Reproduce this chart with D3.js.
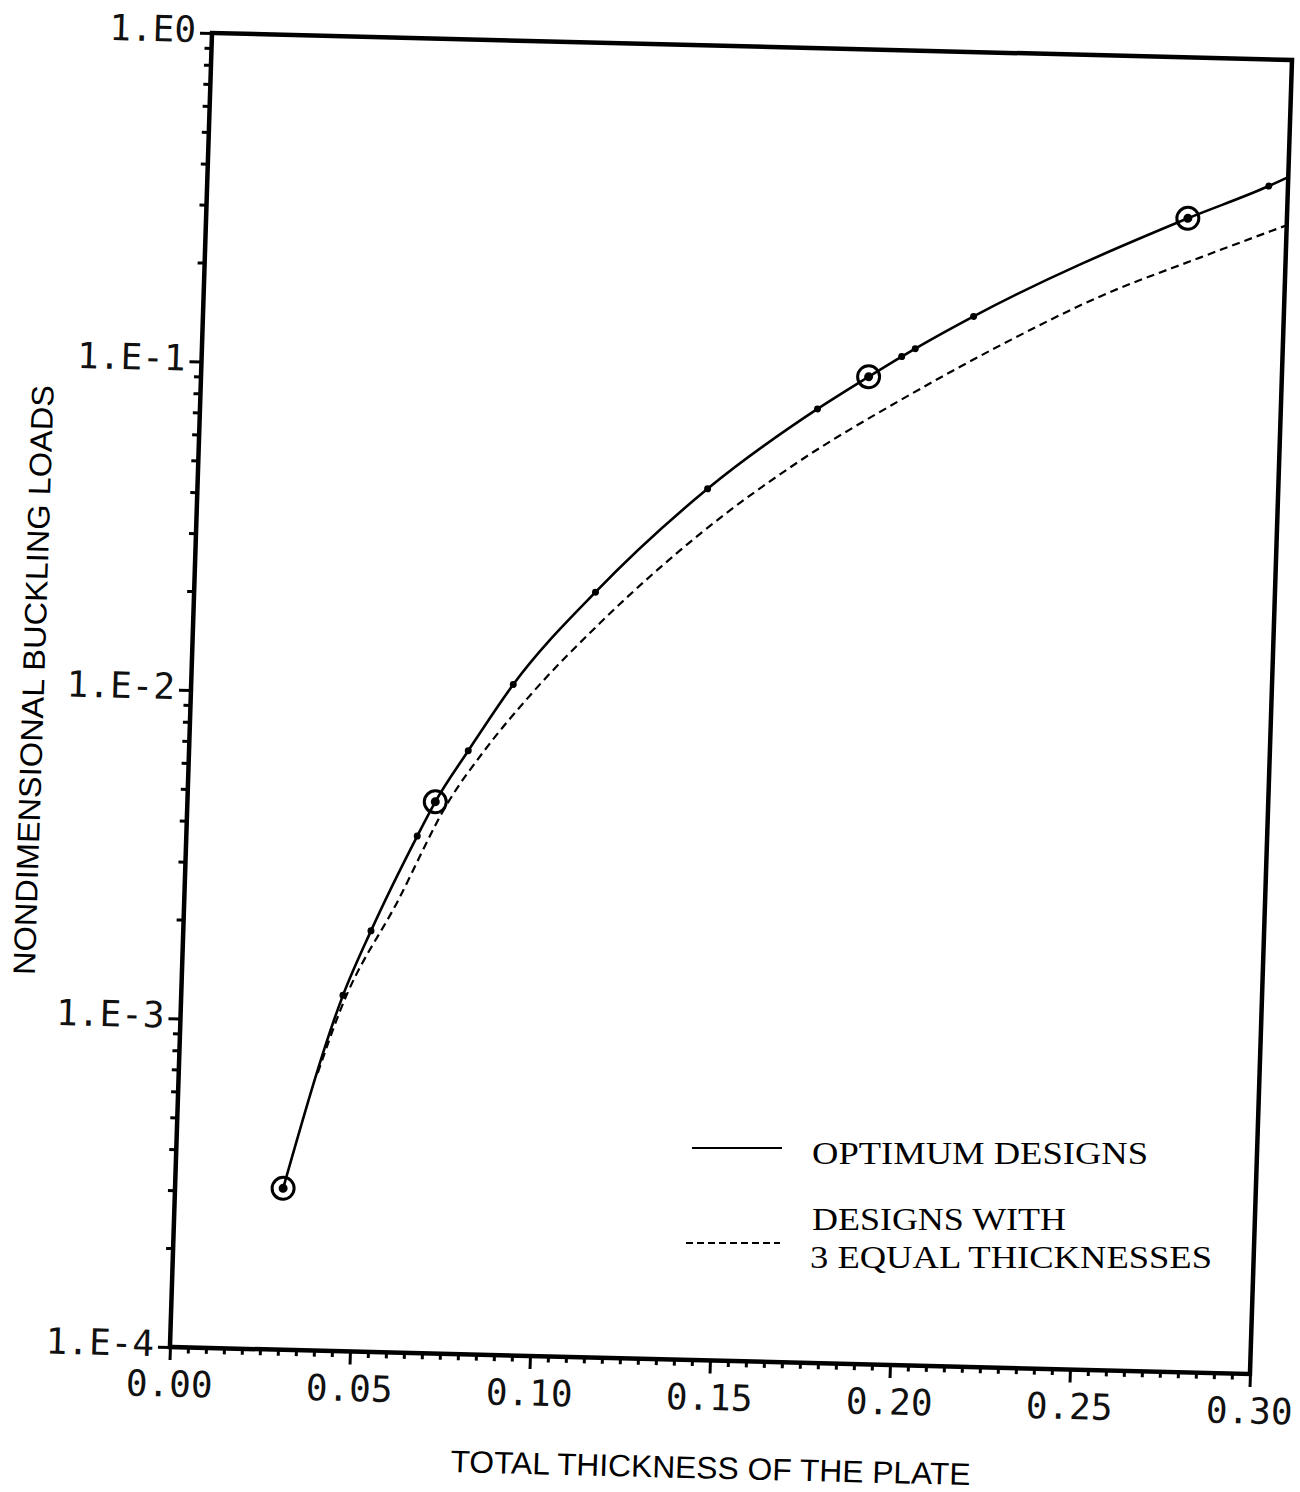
<html>
  <head>
    <meta charset="utf-8">
    <script src="https://d3js.org/d3.v7.min.js"></script>
    <style>
      body { margin: 0; background: #fff; }
      .tick text { font-family: "DejaVu Sans Mono", monospace; }
    </style>
  </head>

  <body>
  <div id='chart'></div>
  <script>

  // optimum designs (solid line), marker: o = circled, . = small dot, "" = none
  var opt_x = [0.030, 0.0449, 0.0521, 0.0641, 0.0688, 0.0775, 0.0894, 0.1114, 0.1416, 0.1714, 0.1853, 0.1943, 0.198, 0.2139, 0.2725, 0.2947, 0.300];
  var opt_y = [3.1e-4, 1.21e-3, 1.91e-3, 3.74e-3, 4.77e-3, 6.86e-3, 1.10e-2, 0.0213, 0.0448, 0.0799, 0.101, 0.117, 0.124, 0.157, 0.324, 0.412, 0.44];
  var opt_mark = ["o", ".", ".", ".", "o", ".", ".", ".", ".", ".", "o", ".", ".", ".", "o", ".", ""];

  // designs with 3 equal thicknesses (dashed line)
  var eq_x = [0.0386, 0.0443, 0.0594, 0.0724, 0.0817, 0.0949, 0.113, 0.140, 0.1673, 0.1944, 0.2217, 0.249, 0.2764, 0.300];
  var eq_y = [7.0e-4, 1.09e-3, 2.38e-3, 4.77e-3, 6.82e-3, 1.045e-2, 0.0172, 0.0327, 0.0557, 0.0863, 0.129, 0.185, 0.247, 0.314];

  var x_ticks = [0, 0.05, 0.10, 0.15, 0.20, 0.25, 0.30];
  var x_labels = ["0.00", "0.05", "0.10", "0.15", "0.20", "0.25", "0.30"];
  var y_ticks = [1e-4, 1e-3, 1e-2, 1e-1, 1];
  var y_labels = ["1.E-4", "1.E-3", "1.E-2", "1.E-1", "1.E0"];

  var W = 1080, H = 1314;

  var svg = d3.select('#chart').append('svg')
      .attr('width', 1300)
      .attr('height', 1492);

  // the scanned plot is a little skewed, so the whole frame gets a small shear/rotation
  var g = svg.append('g')
      .attr('transform', 'matrix(1,0.025,-0.032,1,212,33)');

  var x = d3.scaleLinear().domain([0, 0.30]).range([0, W]);
  var y = d3.scaleLog().domain([1e-4, 1]).range([H, 0]);

  // minor ticks
  var x_minor = d3.range(0, 61).map(function(i){ return i * 0.005; })
      .filter(function(v){ return Math.round(v * 1000) % 50 != 0; });
  var y_minor = [];
  for (var e = -4; e < 0; e++) {
    for (var m = 2; m < 10; m++) y_minor.push(m * Math.pow(10, e));
  }

  g.append('g').attr('class', 'xminor')
      .attr('transform', 'translate(0,' + H + ')')
      .call(d3.axisBottom(x).tickValues(x_minor).tickSize(6).tickFormat(''));
  g.append('g').attr('class', 'yminor')
      .call(d3.axisLeft(y).tickValues(y_minor).tickSize(7).tickFormat(''));

  var xa = g.append('g')
      .attr('transform', 'translate(0,' + H + ')')
      .call(d3.axisBottom(x).tickValues(x_ticks).tickSize(13).tickPadding(11)
            .tickFormat(function(d, i){ return x_labels[i]; }));
  var ya = g.append('g')
      .call(d3.axisLeft(y).tickValues(y_ticks).tickSize(12).tickPadding(4)
            .tickFormat(function(d, i){ return y_labels[i]; }));

  g.selectAll('.domain').remove();
  g.selectAll('.tick line').attr('stroke', '#000').attr('stroke-width', 3);
  xa.selectAll('text').attr('font-size', 36).attr('fill', '#111');
  ya.selectAll('text').attr('font-size', 36).attr('fill', '#111').attr('dy', '0.25em');

  // frame
  g.append('rect')
      .attr('x', 0).attr('y', 0)
      .attr('width', W).attr('height', H)
      .attr('fill', 'none')
      .attr('stroke', '#000')
      .attr('stroke-width', 4.5);

  var line = d3.line()
      .x(function(d){ return x(d[0]); })
      .y(function(d){ return y(d[1]); })
      .curve(d3.curveMonotoneX);

  var opt = opt_x.map(function(v, i){ return [v, opt_y[i], opt_mark[i]]; });
  var eq = eq_x.map(function(v, i){ return [v, eq_y[i]]; });

  g.append('path')
      .datum(eq)
      .attr('d', line)
      .attr('fill', 'none')
      .attr('stroke', '#000')
      .attr('stroke-width', 2.2)
      .attr('stroke-dasharray', '8,5');

  g.append('path')
      .datum(opt)
      .attr('d', line)
      .attr('fill', 'none')
      .attr('stroke', '#000')
      .attr('stroke-width', 2.6);

  g.selectAll('.dot')
      .data(opt.filter(function(d){ return d[2] != ''; }))
      .enter().append('circle')
      .attr('class', 'dot')
      .attr('cx', function(d){ return x(d[0]); })
      .attr('cy', function(d){ return y(d[1]); })
      .attr('r', function(d){ return d[2] == 'o' ? 4.5 : 3.5; })
      .attr('fill', '#000');

  g.selectAll('.ring')
      .data(opt.filter(function(d){ return d[2] == 'o'; }))
      .enter().append('circle')
      .attr('class', 'ring')
      .attr('cx', function(d){ return x(d[0]); })
      .attr('cy', function(d){ return y(d[1]); })
      .attr('r', 11)
      .attr('fill', 'none')
      .attr('stroke', '#000')
      .attr('stroke-width', 3);

  // axis titles
  g.append('text')
      .attr('transform', 'translate(-147,651) rotate(-90)')
      .attr('text-anchor', 'middle')
      .attr('font-family', '"Liberation Sans", Arial, sans-serif')
      .attr('font-size', 31)
      .attr('textLength', 590)
      .attr('lengthAdjust', 'spacingAndGlyphs')
      .text('NONDIMENSIONAL BUCKLING LOADS');

  g.append('text')
      .attr('x', 544)
      .attr('y', 1432)
      .attr('text-anchor', 'middle')
      .attr('font-family', '"Liberation Sans", Arial, sans-serif')
      .attr('font-size', 31)
      .attr('textLength', 520)
      .attr('lengthAdjust', 'spacingAndGlyphs')
      .text('TOTAL THICKNESS OF THE PLATE');

  // legend (pasted on, not skewed)
  var lg = svg.append('g').attr('font-family', '"Liberation Serif", "Times New Roman", serif').attr('font-size', 32);
  lg.append('line').attr('x1', 692).attr('x2', 782).attr('y1', 1148).attr('y2', 1148)
      .attr('stroke', '#000').attr('stroke-width', 2.2);
  lg.append('text').attr('x', 812).attr('y', 1164).attr('textLength', 336)
      .attr('lengthAdjust', 'spacingAndGlyphs').text('OPTIMUM DESIGNS');
  lg.append('line').attr('x1', 686).attr('x2', 780).attr('y1', 1243).attr('y2', 1243)
      .attr('stroke', '#000').attr('stroke-width', 2).attr('stroke-dasharray', '7,4');
  lg.append('text').attr('x', 812).attr('y', 1230).attr('textLength', 254)
      .attr('lengthAdjust', 'spacingAndGlyphs').text('DESIGNS WITH');
  lg.append('text').attr('x', 810).attr('y', 1268).attr('textLength', 402)
      .attr('lengthAdjust', 'spacingAndGlyphs').text('3 EQUAL THICKNESSES');

  </script>
  </body>

</html>
